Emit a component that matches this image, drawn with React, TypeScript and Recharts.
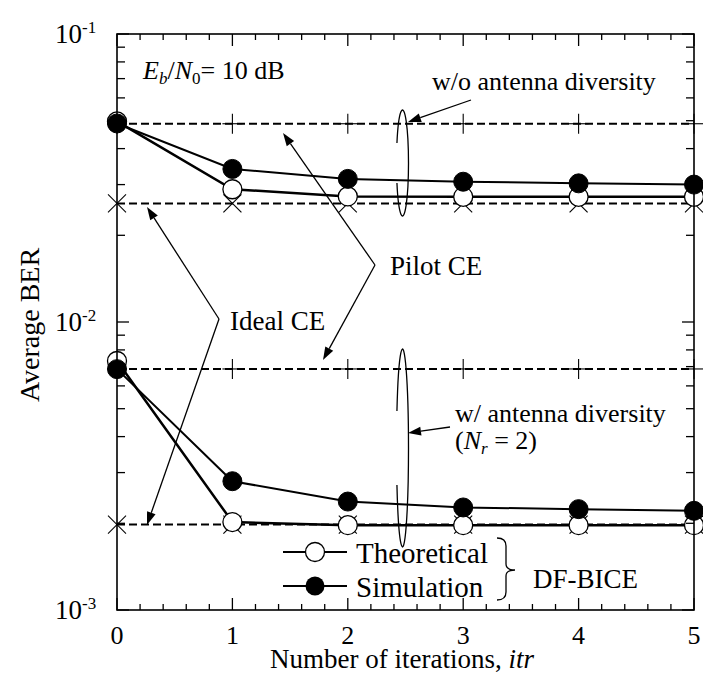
import React from "react";
import { LineChart, Line, XAxis, YAxis } from "recharts";

// ---------- data ----------
const iterations = [0, 1, 2, 3, 4, 5];
const theoWithout = [0.0497, 0.0289, 0.0273, 0.0272, 0.0272, 0.0272];
const simWithout = [0.0489, 0.034, 0.0314, 0.0307, 0.0303, 0.03];
const pilotWithout = [0.0488, 0.0488, 0.0488, 0.0488, 0.0488, 0.0488];
const idealWithout = [0.0258, 0.0258, 0.0258, 0.0258, 0.0258, 0.0258];
const theoWith = [0.00732, 0.00202, 0.00197, 0.00197, 0.00197, 0.00197];
const simWith = [0.00686, 0.0028, 0.00238, 0.00227, 0.00224, 0.00221];
const pilotWith = [0.00687, 0.00687, 0.00687, 0.00687, 0.00687, 0.00687];
const idealWith = [0.00198, 0.00198, 0.00198, 0.00198, 0.00198, 0.00198];

const xTicks = [
  0, 0.2, 0.4, 0.6, 0.8, 1, 1.2, 1.4, 1.6, 1.8, 2, 2.2, 2.4, 2.6, 2.8, 3, 3.2,
  3.4, 3.6, 3.8, 4, 4.2, 4.4, 4.6, 4.8, 5,
];
const yTicks = [
  0.001, 0.002, 0.003, 0.004, 0.005, 0.006, 0.007, 0.008, 0.009, 0.01, 0.02,
  0.03, 0.04, 0.05, 0.06, 0.07, 0.08, 0.09, 0.1,
];

const data = iterations.map((it, i) => ({
  it,
  theoWo: theoWithout[i],
  simWo: simWithout[i],
  pilotWo: pilotWithout[i],
  idealWo: idealWithout[i],
  theoW: theoWith[i],
  simW: simWith[i],
  pilotW: pilotWith[i],
  idealW: idealWith[i],
}));

// ---------- layout ----------
const W = 703;
const H = 674;
const PL = 117;
const PR = 694;
const PT = 34;
const PB = 610;
const FONT = '"Liberation Serif", "DejaVu Serif", "Times New Roman", Times, serif';
const TS: React.CSSProperties = { fontFamily: FONT };

const isInt = (v: number) => Math.abs(v - Math.round(v)) < 1e-6;

const XTick = (props: any) => {
  const { x, y, payload } = props;
  const v = payload.value;
  const major = isInt(v);
  const len = major ? 12 : 6;
  return (
    <g>
      <line x1={x} x2={x} y1={y} y2={y - len} stroke="#000" strokeWidth={1.3} />
      <line x1={x} x2={x} y1={PT} y2={PT + len} stroke="#000" strokeWidth={1.3} />
      {major && (
        <text x={x} y={y + 34} textAnchor="middle" fontSize={26} style={TS} fill="#000">
          {Math.round(v)}
        </text>
      )}
    </g>
  );
};

const YTick = (props: any) => {
  const { x, y, payload } = props;
  const v = payload.value;
  const lg = Math.log10(v);
  const exp = Math.round(lg);
  const major = Math.abs(lg - exp) < 1e-6;
  const len = major ? 12 : 8;
  return (
    <g>
      <line x1={x} x2={x + len} y1={y} y2={y} stroke="#000" strokeWidth={1.3} />
      <line x1={PR} x2={PR - len} y1={y} y2={y} stroke="#000" strokeWidth={1.3} />
      {major && (
        <text x={x - 62} y={y + 8.5} fontSize={27} style={TS} fill="#000">
          10
          <tspan dy={-10} fontSize={17}>
            {String(exp)}
          </tspan>
        </text>
      )}
    </g>
  );
};

const OpenDot = (p: any) => (
  <circle key={`o${p.index}`} cx={p.cx} cy={p.cy} r={9.5} fill="#fff" stroke="#000" strokeWidth={1.3} />
);
const FilledDot = (p: any) => (
  <circle key={`f${p.index}`} cx={p.cx} cy={p.cy} r={9.5} fill="#000" stroke="#000" strokeWidth={1} />
);
const PlusDot = (p: any) => (
  <g key={`p${p.index}`}>
    <line x1={p.cx - 10} x2={p.cx + 10} y1={p.cy} y2={p.cy} stroke="#000" strokeWidth={1.1} />
    <line x1={p.cx} x2={p.cx} y1={p.cy - 10} y2={p.cy + 10} stroke="#000" strokeWidth={1.1} />
  </g>
);
const CrossDot = (p: any) => (
  <g key={`x${p.index}`}>
    <line x1={p.cx - 9} x2={p.cx + 9} y1={p.cy - 9} y2={p.cy + 9} stroke="#000" strokeWidth={1.1} />
    <line x1={p.cx - 9} x2={p.cx + 9} y1={p.cy + 9} y2={p.cy - 9} stroke="#000" strokeWidth={1.1} />
  </g>
);

function Arrow({ x1, y1, x2, y2 }: { x1: number; y1: number; x2: number; y2: number }) {
  const dx = x2 - x1;
  const dy = y2 - y1;
  const L = Math.hypot(dx, dy);
  const ux = dx / L;
  const uy = dy / L;
  const hl = 13;
  const hw = 4.5;
  const bx = x2 - ux * hl;
  const by = y2 - uy * hl;
  const pts = `${x2},${y2} ${bx - uy * hw},${by + ux * hw} ${bx + uy * hw},${by - ux * hw}`;
  return (
    <g>
      <line x1={x1} y1={y1} x2={bx} y2={by} stroke="#000" strokeWidth={1.3} />
      <polygon points={pts} fill="#000" />
    </g>
  );
}

function GapEllipse({ cx, cy, rx, ry, g1, g2 }: { cx: number; cy: number; rx: number; ry: number; g1: number; g2: number }) {
  const xAt = (y: number) => cx - rx * Math.sqrt(Math.max(0, 1 - ((y - cy) / ry) ** 2));
  const d = `M ${xAt(g2)} ${g2} A ${rx} ${ry} 0 1 0 ${xAt(g1)} ${g1}`;
  return <path d={d} fill="none" stroke="#000" strokeWidth={1.3} />;
}

function Overlay() {
  const t = { style: TS, fill: "#000" };
  return (
    <svg
      width={W}
      height={H}
      style={{ position: "absolute", left: 0, top: 0, pointerEvents: "none" }}
    >
      <rect x={PL} y={PT} width={PR - PL} height={PB - PT} fill="none" stroke="#000" strokeWidth={1.6} />

      {/* axis titles */}
      <text x={402} y={668} textAnchor="middle" fontSize={27} {...t}>
        Number of iterations, <tspan fontStyle="italic">itr</tspan>
      </text>
      <text
        transform="translate(29,325) rotate(-90)"
        textAnchor="middle"
        dominantBaseline="central"
        fontSize={28}
        {...t}
      >
        Average BER
      </text>

      {/* Eb/N0 */}
      <text x={143} y={79} fontSize={26} {...t}>
        <tspan fontStyle="italic">E</tspan>
        <tspan fontStyle="italic" fontSize={17} dy={5}>b</tspan>
        <tspan dy={-5}>/</tspan>
        <tspan fontStyle="italic">N</tspan>
        <tspan fontSize={17} dy={5}>0</tspan>
        <tspan dy={-5}>= 10 dB</tspan>
      </text>

      {/* w/o antenna diversity */}
      <text x={432} y={90} fontSize={26} {...t}>w/o antenna diversity</text>
      <Arrow x1={471} y1={100} x2={408} y2={122} />
      <GapEllipse cx={402.5} cy={163} rx={6} ry={53} g1={143} g2={183} />

      {/* w/ antenna diversity */}
      <text x={455} y={422} fontSize={26} {...t}>w/ antenna diversity</text>
      <text x={455} y={449} fontSize={26} {...t}>
        (<tspan fontStyle="italic">N</tspan>
        <tspan fontStyle="italic" fontSize={17} dy={5}>r</tspan>
        <tspan dy={-5}> = 2)</tspan>
      </text>
      <Arrow x1={450} y1={427} x2={408} y2={433} />
      <GapEllipse cx={402.5} cy={448} rx={6} ry={99} g1={411} g2={485} />

      {/* Pilot CE */}
      <text x={390} y={275} fontSize={27} {...t}>Pilot CE</text>
      <Arrow x1={375} y1={265} x2={283} y2={133} />
      <Arrow x1={375} y1={265} x2={323} y2={360} />

      {/* Ideal CE */}
      <text x={230} y={330} fontSize={27} {...t}>Ideal CE</text>
      <Arrow x1={219} y1={319} x2={147} y2={207} />
      <Arrow x1={219} y1={319} x2={147} y2={525} />

      {/* legend */}
      <line x1={283} x2={347} y1={552} y2={552} stroke="#000" strokeWidth={2} />
      <circle cx={315} cy={552} r={9.5} fill="#fff" stroke="#000" strokeWidth={1.3} />
      <text x={356} y={563} fontSize={29} {...t}>Theoretical</text>
      <line x1={283} x2={347} y1={586} y2={586} stroke="#000" strokeWidth={2} />
      <circle cx={315} cy={586} r={9.5} fill="#000" />
      <text x={356} y={597} fontSize={29} {...t}>Simulation</text>
      <path
        d="M497,538 Q506,538 506,546 L506,564 Q506,570 515,570 Q506,570 506,576 L506,592 Q506,600 497,600"
        fill="none"
        stroke="#000"
        strokeWidth={1.3}
      />
      <text x={533} y={588} fontSize={27} {...t}>DF-BICE</text>
    </svg>
  );
}

export default function App() {
  return (
    <div style={{ position: "absolute", left: 0, top: 0, width: W, height: H, background: "#fff" }}>
      <LineChart width={W} height={H} data={data} margin={{ top: PT, right: W - PR, bottom: 0, left: 0 }}>
        <XAxis
          dataKey="it"
          type="number"
          domain={[0, 5]}
          ticks={xTicks}
          interval={0}
          height={H - PB}
          tickSize={0}
          tickMargin={0}
          tickLine={false}
          axisLine={false}
          tick={<XTick />}
        />
        <YAxis
          type="number"
          scale="log"
          domain={[0.001, 0.1]}
          ticks={yTicks}
          interval={0}
          width={PL}
          tickSize={0}
          tickMargin={0}
          tickLine={false}
          axisLine={false}
          tick={<YTick />}
        />
        <Line dataKey="pilotWo" stroke="#000" strokeWidth={2} strokeDasharray="8 4" dot={PlusDot} activeDot={false} isAnimationActive={false} />
        <Line dataKey="idealWo" stroke="#000" strokeWidth={2} strokeDasharray="8 4" dot={CrossDot} activeDot={false} isAnimationActive={false} />
        <Line dataKey="pilotW" stroke="#000" strokeWidth={2} strokeDasharray="8 4" dot={PlusDot} activeDot={false} isAnimationActive={false} />
        <Line dataKey="idealW" stroke="#000" strokeWidth={2} strokeDasharray="8 4" dot={CrossDot} activeDot={false} isAnimationActive={false} />
        <Line dataKey="theoWo" stroke="#000" strokeWidth={2.5} dot={OpenDot} activeDot={false} isAnimationActive={false} />
        <Line dataKey="theoW" stroke="#000" strokeWidth={2.5} dot={OpenDot} activeDot={false} isAnimationActive={false} />
        <Line dataKey="simWo" stroke="#000" strokeWidth={2} dot={FilledDot} activeDot={false} isAnimationActive={false} />
        <Line dataKey="simW" stroke="#000" strokeWidth={2} dot={FilledDot} activeDot={false} isAnimationActive={false} />
      </LineChart>
      <Overlay />
    </div>
  );
}
